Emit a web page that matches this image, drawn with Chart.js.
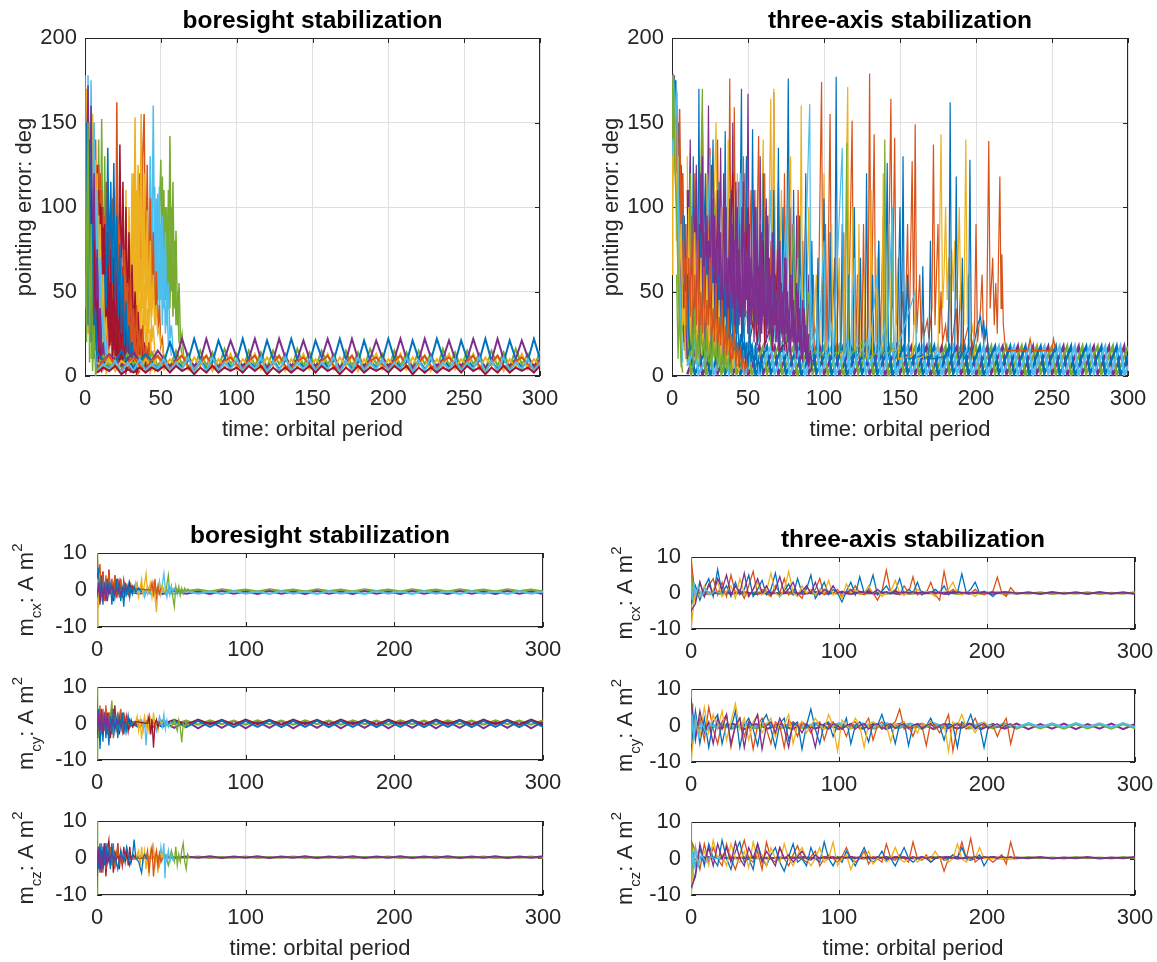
<!DOCTYPE html>
<html lang="en">
<head>
<meta charset="UTF-8">
<title>boresight / three-axis stabilization</title>
<script src="https://cdn.jsdelivr.net/npm/chart.js"></script>
<style>
  html, body { margin: 0; padding: 0; background: #fff; overflow: hidden; }
  #fig { position: relative; width: 1157px; height: 962px; overflow: hidden; background: #fff; }
  #fig canvas { position: absolute; }
</style>
</head>
<body>
<div id="fig"></div>
<script>
// ---------- colours (MATLAB line order) ----------
const C = { blue: '#0072BD', orange: '#D95319', yellow: '#EDB120', purple: '#7E2F8E',
            green: '#77AC30', cyan: '#4DBEEE', red: '#A2142F' };

// ---------- axis ticks ----------
const errTicksX = [0, 50, 100, 150, 200, 250, 300];
const errTicksY = [0, 50, 100, 150, 200];
const momTicksX = [0, 100, 200, 300];
const momTicksY = [-10, 0, 10];

// one-orbit sample times for the early transients
const tH = [0,1,2,3,4,5,6,7,8,9,10,11,12,13,14,15,16,17,18,19,20,21,22,23,24,25,26,27,28,29,
  30,31,32,33,34,35,36,37,38,39,40,41,42,43,44,45,46,47,48,49,50,51,52,53,54,55,56,57,58,59,
  60,61,62,63,64,65,66,67,68,69,70,71,72,73,74,75,76,77,78,79,80,81,82,83,84,85,86,87,88,89,
  90,91,92,93,94,95,96,97,98,99,100];

// ================= top left: boresight pointing error =================
// steady band, sampled every 4 orbits
const tS = [8,12,16,20,24,28,32,36,40,44,48,52,56,60,64,68,72,76,80,84,88,92,96,100,104,108,112,116,120,124,
  128,132,136,140,144,148,152,156,160,164,168,172,176,180,184,188,192,196,200,204,208,212,216,220,224,228,232,236,240,244,
  248,252,256,260,264,268,272,276,280,284,288,292,296,300];
const bsBlueS = [14,9,4,8, 15,8,5,9, 13,9,4,8, 20,10,5,9,
  22,10,4,8, 21,11,5,9, 22,9,5,8, 21,10,4,9,
  22,10,5,8, 21,11,5,9, 22,10,4,8, 21,9,5,9,
  22,10,5,8, 21,10,4,9, 22,11,5,8, 21,10,5,9,
  22,9,4,8, 21,10,5,9, 22,10];
const bsPurpleS = [5,9,13,10, 6,10,14,9, 5,9,15,10, 6,10,22,11,
  6,9,22,10, 5,10,21,11, 6,10,22,10, 5,9,22,11,
  6,10,21,10, 6,10,22,11, 5,9,22,10, 6,10,21,11,
  6,10,22,10, 5,9,22,11, 6,10,21,10, 6,10,22,11,
  5,9,22,10, 6,10,21,11, 6,10];
const bsGreenS = [4,12,6,11, 5,13,7,12, 4,14,6,12, 5,15,7,13,
  4,15,6,14, 5,16,7,13, 4,15,6,14, 5,15,7,13,
  4,16,6,14, 5,15,7,13, 4,15,6,14, 5,16,7,13,
  4,15,6,14, 5,15,7,13, 4,16,6,14, 5,15,7,13,
  4,15,6,14, 5,16,7,13, 4,15];
const bsRedS = [2,5,3,6, 1,4,2,5, 2,5,3,6, 2,6,3,5,
  1,5,2,6, 2,5,3,5, 2,6,3,6, 1,5,2,5,
  2,5,3,6, 2,6,3,5, 1,5,2,6, 2,5,3,5,
  2,6,3,6, 1,5,2,5, 2,5,3,6, 2,6,3,5,
  1,5,2,6, 2,5,3,5, 2,6];
const bsYellowS = [8,5,10,3, 9,6,11,4, 10,5,12,4, 10,6,13,4,
  11,6,12,3, 10,5,13,4, 10,6,13,4, 11,6,12,3,
  10,5,13,4, 10,6,13,4, 11,6,12,3, 10,5,13,4,
  10,6,13,4, 11,6,12,3, 10,5,13,4, 10,6,13,4,
  11,6,12,3, 10,5,13,4, 10,6];
const bsCyanS = [3,7,4,9, 2,8,3,10, 3,7,4,10, 3,8,4,11,
  2,9,3,11, 3,8,4,10, 3,8,4,11, 2,9,3,11,
  3,8,4,10, 3,8,4,11, 2,9,3,11, 3,8,4,10,
  3,8,4,11, 2,9,3,11, 3,8,4,10, 3,8,4,11,
  2,9,3,11, 3,8,4,10, 3,8];
const bsOrangeS = [4,9,12,6, 3,8,11,6, 4,9,12,7, 4,9,12,6,
  3,8,12,6, 4,9,11,7, 4,9,12,6, 3,8,12,6,
  4,9,11,7, 4,9,12,6, 3,8,12,6, 4,9,11,7,
  4,9,12,6, 3,8,12,6, 4,9,11,7, 4,9,12,6,
  3,8,12,6, 4,9,11,7, 4,9];
// transient runs: start time on tH, then one value per orbit
const bsRun1 = [0, 178,100,172,80,160,55,120,30,70,12,30,5,8];
const bsRun2 = [0, 160,60,178,70,175,55,150,40,110,30,70,20,40,12,18,6,8];
const bsRun3 = [0, 40,170,25,150,20,155,15,128,10,95,5,60,3,30,1,10,3];
const bsRun4 = [0, 178,20,150,8,90,3,30,0,5];
const bsRun5 = [4, 10,45,20,110,40,140,50,152,45,130,35,75,25,40,15,20,10];
const bsRun6 = [2, 100,150,45,110,40,95,30,70,25,50,35,60,40,135,65,115,55,126,45,95,35,78,25,60,18,44,12,30,8,20,5,12,4,5];
const bsRun7 = [3, 90,140,50,138,45,125,45,102,40,88,35,72,28,55,20,45,15,35,10,25,7,18,4,12,2,6];
const bsRun8 = [4, 60,130,55,140,50,125,45,110,40,95,35,88,30,75,28,68,25,162,22,56,16,46,12,38,9,30,6,24,4,18,3,12,2];
const bsRun9 = [8, 90,40,120,45,100,40,115,40,95,35,105,35,85,30,90,28,70,25,75,22,55,18,58,15,40,12,42,10,28,8,30,6,18,5,20,4,10];
const bsRun10 = [10, 60,95,35,80,40,100,35,90,30,75,28,80,25,60,22,65,18,45,15,50,12,32,10,35,8,20,6,22,4,12,3];
const bsRun11 = [18, 60,110,50,118,45,137,50,115,40,100,35,85,30,66,25,50,20,38,15,28,12,20,8,14,6];
const bsRun12 = [28, 40,95,45,120,50,153,55,125,50,155,50,120,45,98,40,80,35,60,30,42,25,28,18,18,10];
const bsRun13 = [30, 60,30,120,40,110,35,100,120,40,95,30,75,25,55,20,30,15,12];
const bsRun14 = [33, 50,110,45,120,50,130,155,50,125,45,105,40,85,30,62,25,42,18,22,10];
const bsRun15 = [42, 60,130,60,160,55,105,50,112,45,95,40,85,30,55,22,30,15,10];
const bsRun16 = [43, 50,105,45,112,40,108,35,90,30,75,25,45,18,20,12];
const bsRun17 = [46, 40,100,45,95,128,50,110,45,100,40,142,50,115,40,86,30,55,20,25,12,10];
const bsRun18 = [50, 60,118,40,100,45,110,40,100,35,80,30,50,20,18,12];
const bsRun19 = [0, 60,150,30,140,20,90,10,40,5,8];
const bsRun20 = [1, 100,160,50,130,40,90,30,75,20,40,10,20,8,5];
const bsRun21 = [0, 120,30,150,25,130,20,100,15,60,8,25,3];
const bsRun22 = [0, 150,60,140,50,110,35,80,20,45,10,15,2];
const bsRun23 = [1, 90,170,70,150,50,100,30,60,15,25,5];
const bsRun24 = [2, 140,60,120,40,100,30,70,20,40,10,15,5];
const bsRun25 = [5, 90,150,60,120,50,90,35,60,20,35,10,15,5];
const bsRun26 = [6, 20,120,15,110,10,100,12,90,8,85,10,75,6,70,8,60,5,50,6,45,4,35,3,28,2,20,2,12,1,6];
const bsRun27 = [12, 100,20,95,15,90,18,80,12,72,10,65,8,55,6,48,5,40,4,32,3,25,2,18,1,10];
const bsRun28 = [26, 30,110,20,100,15,95,12,120,10,85,8,70,6,55,5,40,4,28,3,15,2];

// ================= top right: three-axis pointing error =================
const tT = [10,12.5,15,17.5,20,22.5,25,27.5,30,32.5,35,37.5,40,42.5,45,47.5,50,52.5,55,57.5,
  60,62.5,65,67.5,70,72.5,75,77.5,80,82.5,85,87.5,90,92.5,95,97.5,100,102.5,105,107.5,
  110,112.5,115,117.5,120,122.5,125,127.5,130,132.5,135,137.5,140,142.5,145,147.5,150,152.5,155,157.5,
  160,162.5,165,167.5,170,172.5,175,177.5,180,182.5,185,187.5,190,192.5,195,197.5,200,202.5,205,207.5,
  210,212.5,215,217.5,220,222.5,225,227.5,230,232.5,235,237.5,240,242.5,245,247.5,250,252.5,255,257.5,
  260,262.5,265,267.5,270,272.5,275,277.5,280,282.5,285,287.5,290,292.5,295,297.5,300];
const taPurpleS = [1,7,14,22, 0.5,6,13,21, 1.5,7,14,22,
  1,6,12,19, 0.5,5.5,11.5,18, 1.5,6.5,12.5,17.5,
  1,6,12,17.5, 0.5,5.5,11.5,17.5, 1.5,6.5,12.5,17.5,
  1,6,12,17.5, 0.5,5.5,11.5,17.5, 1.5,6.5,12.5,17.5,
  1,6,12,17.5, 0.5,5.5,11.5,17.5, 1.5,6.5,12.5,17.5,
  1,6,12,17.5, 0.5,5.5,11.5,17.5, 1.5,6.5,12.5,17.5,
  1,6,12,17.5, 0.5,5.5,11.5,17.5, 1.5,6.5,12.5,17.5,
  1,6,12,17.5, 0.5,5.5,11.5,17.5, 1.5,6.5,12.5,17.5,
  1,6,12,17.5, 0.5,5.5,11.5,17.5, 1.5,6.5,12.5,17.5,
  1,6,12,17.5, 0.5,5.5,11.5,17.5, 1];
const taGreenS = [24,1,8,16, 23,0.5,7,15, 25,1.5,8,16,
  21,1,7,14, 19,0.5,6,12, 17.5,1.5,6.5,12.5,
  17.5,1,6,12, 17.5,0.5,5.5,11.5, 17.5,1.5,6.5,12.5,
  17.5,1,6,12, 17.5,0.5,5.5,11.5, 17.5,1.5,6.5,12.5,
  17.5,1,6,12, 17.5,0.5,5.5,11.5, 17.5,1.5,6.5,12.5,
  17.5,1,6,12, 17.5,0.5,5.5,11.5, 17.5,1.5,6.5,12.5,
  17.5,1,6,12, 17.5,0.5,5.5,11.5, 17.5,1.5,6.5,12.5,
  17.5,1,6,12, 17.5,0.5,5.5,11.5, 17.5,1.5,6.5,12.5,
  17.5,1,6,12, 17.5,0.5,5.5,11.5, 17.5,1.5,6.5,12.5,
  17.5,1,6,12, 17.5,0.5,5.5,11.5, 17.5];
const taBlueS = [12,18,1,6, 11.5,19,0.5,5.5, 12.5,18,1.5,6.5,
  12,17.5,1,6, 11.5,17.5,0.5,5.5, 12.5,17.5,1.5,6.5,
  12,17.5,1,6, 11.5,17.5,0.5,5.5, 12.5,17.5,1.5,6.5,
  12,17.5,1,6, 11.5,17.5,0.5,5.5, 12.5,17.5,1.5,6.5,
  12,17.5,1,6, 11.5,17.5,0.5,5.5, 12.5,17.5,1.5,6.5,
  12,17.5,1,6, 11.5,17.5,0.5,5.5, 12.5,17.5,1.5,6.5,
  12,17.5,1,6, 11.5,17.5,0.5,5.5, 12.5,17.5,1.5,6.5,
  12,17.5,1,6, 11.5,17.5,0.5,5.5, 12.5,17.5,1.5,6.5,
  12,17.5,1,6, 11.5,17.5,0.5,5.5, 12.5,17.5,1.5,6.5,
  12,17.5,1,6, 11.5,17.5,0.5,5.5, 12];
const taCyanS = [6,12,20,1, 5.5,11.5,19,0.5, 6.5,12.5,20,1.5,
  6,12,18,1, 5.5,11.5,17.5,0.5, 6.5,12.5,17.5,1.5,
  6,12,17.5,1, 5.5,11.5,17.5,0.5, 6.5,12.5,17.5,1.5,
  6,12,17.5,1, 5.5,11.5,17.5,0.5, 6.5,12.5,17.5,1.5,
  6,12,17.5,1, 5.5,11.5,17.5,0.5, 6.5,12.5,17.5,1.5,
  6,12,17.5,1, 5.5,11.5,17.5,0.5, 6.5,12.5,17.5,1.5,
  6,12,17.5,1, 5.5,11.5,17.5,0.5, 6.5,12.5,17.5,1.5,
  6,12,17.5,1, 5.5,11.5,17.5,0.5, 6.5,12.5,17.5,1.5,
  6,12,17.5,1, 5.5,11.5,17.5,0.5, 6.5,12.5,17.5,1.5,
  6,12,17.5,1, 5.5,11.5,17.5,0.5, 6];
// dense early runs: start time on tH, then one value per orbit
const taRibPurple = [8, 30,90,25,110,30,80,20,100,35,70,25,120,30,85,20,95,40,60,25,105,30,75,20,90,35,65,25,110,30,70,
  20,95,40,80,25,100,30,60,20,115,35,70,25,90,30,55,20,100,30,65,20,85,35,50,20,95,25,60,18,75,
  30,45,15,80,25,50,15,70,20,40,12,60,20,35,10,50,15,30,8,40,10,20,5,15,3];
const taRibPurple2 = [15, 40,120,35,90,50,130,30,100,45,80, 35,125,40,95,30,110,50,85,30,120,
  40,70,35,105,45,90,30,115,40,75, 35,100,30,85,45,95,30,70,40,110, 35,80,30,90,25,65,35,100,30,70,
  25,85,30,60,20,75,25,55,20,70, 25,50,15,60,20,45,15,55,20,40, 10,45,15,30,8,25];
const taRibBlue = [5, 60,15,80,20,70,10,90,25,60,15,75,20,55,10,85,25,50,15,70,20,45,10,65,25,40,12,60,20,35,10,
  55,18,30,8,50,15,28,8,45,12,25,6,40,10,20,5,30,8,15,4,20,5,10,3,8,2];
const taRibOrange = [5, 100,30,120,40,90,20,70,35,95,20,60,30,80,15,50,25,65,15,45,30,70,12,40,20,55,10,35,18,45,8,
  30,12,40,6,25,10,30,5,20,8,15,4,12,3,8,2];
const taRibYellow = [3, 140,40,110,30,90,25,70,30,100,20,60,35,85,15,55,25,70,20,45,30,60,12,40,20,55,10,35,15,45,8,
  30,12,35,6,22,10,25,5,15,6,10,3,5];
const taRibGreen = [3, 60,10,50,5,40,15,45,8,35,12,30,5,40,10,25,6,30,12,22,5,28,8,20,4,25,10,18,3,20,6,
  14,2,15,5,10,2,8,1];
// transients [time, deg]
const taStartPurple = [[0,175],[0.5,179],[1,170],[1.5,178],[2,160],[2.5,150],[3,168],[3.5,120],[4,140],[4.5,90],[5,110],[5.5,60],[6,80],[6.5,40],[7,55],[8,20],[9,30],[10,10]];
const taStartBlue = [[0,150],[0.5,177],[1,165],[2,175],[2.5,140],[3,160],[4,120],[4.5,150],[5,100],[6,125],[7,80],[8,95],[9,50],[10,60],[11,25],[12,15]];
const taStartOrange = [[0,90],[1,160],[2,130],[3,155],[4,100],[5,158],[6,90],[7,120],[8,60],[9,70],[10,30]];
const taStartGreen = [[0,178],[0.5,140],[1,170],[2,120],[3,100],[4,60],[5,30],[6,10],[7,2]];
const taStartYellow = [[0,60],[0.5,175],[1,120],[2,150],[3,80],[4,130],[5,60],[6,90],[7,30],[8,40],[9,10]];
const taStartCyan = [[0,130],[1,178],[2,150],[3,170],[4,110],[5,60],[6,30],[7,8]];
const taSpPurple = [[10,30],[12,140],[13,40],[15,60],[16,125],[17,35],[19,50],[20,155],[21,45],[23,70],[24,160],[25,40],[27,55],[28,110],[29,30],[31,60],[32,135],[33,45],[35,40],[36,100],[37,30],[39,55],[40,150],[41,50],[43,40],[44,115],[45,35],[47,60],[48,120],[49,45],[50,167],[51,40],[53,30],[54,95],[55,25],[57,45],[58,130],[59,35],[61,30],[62,105],[63,28],[65,25],[66,90],[67,30],[69,40],[70,115],[71,25],[73,30],[74,85],[75,22],[77,35],[78,100],[79,28],[81,25],[82,95],[83,20],[85,30],[86,80],[87,18],[89,15],[90,60],[91,12],[93,8]];
const taSpBlue = [[10,20],[12,60],[13,25],[14,130],[15,30],[17,45],[17.7,170],[18.5,35],[20,50],[22,120],[23,30],[25,40],[27,140],[28,35],[30,45],[31,115],[32,30],[34,40],[35,145],[36,35],[38,30],[39,110],[40,28],[42,45],[43,80],[44,30],[45.7,170],[46.5,30],[48,40],[49,130],[50,25],[52,35],[53,146],[54,30],[55,25],[56,100],[57,22],[59,30],[60,120],[61,25],[62,20],[63,90],[64,22],[66,28],[67,110],[68,20],[69,25],[70,135],[71,20],[72,25],[73,100],[74,18],[75,25],[76.5,176],[77.5,20],[79,25],[80,110],[81,18],[83,22],[84,95],[85,15],[87,20],[88,120],[89,15],[91,18],[92,80],[93,12],[95,15],[96,70],[97,12],[99,15],[100,105],[101,12],[103,15],[104,85],[105,10],[107,12],[108,177],[109,10],[111,15],[112,90],[113,10],[115,12],[116,60],[117,10],[119,12],[120,100],[121,10],[123,14],[124,70],[125,10],[127,12],[128,120],[129,10],[131,12],[132,60],[133,10],[135,15],[136,80],[137,10],[140,15],[141.6,126],[142.5,12],[144,15],[145,75],[146,10],[148,12],[150,100],[151,15],[152,130],[153,10],[155,60],[156,10],[164,12],[165,65],[166,10],[169,12],[170,80],[171,10],[182,12],[183,162],[184,10],[186,15],[187,118],[188,12],[190,15],[191,70],[192,10],[195,15],[196,128],[197,12],[199,20],[201,30],[203,35],[204,25],[205,33],[206,22],[207,28],[208,15],[209,10]];
const taSpOrange = [[10,30],[12,60],[14,25],[15,120],[16,30],[18,50],[20,150],[21,40],[23,45],[25,135],[26,35],[28,50],[30,140],[31,40],[33,35],[34,100],[35,30],[37,45],[38,176],[39,40],[40,60],[41,159],[42,35],[44,40],[45,90],[46,30],[47,130],[48,35],[50,40],[52,110],[53,30],[55,35],[57,142],[58,30],[60,40],[61,120],[62,28],[64,35],[65,80],[66,25],[67,168],[68,30],[70,100],[71,25],[73,30],[74,120],[75,22],[77,30],[79,90],[80,20],[82,25],[83,110],[84,20],[86,25],[88,95],[89,18],[91,20],[93,60],[94,15],[96,20],[98.4,174],[99.3,20],[100,40],[101,90],[102,15],[104,155],[105,18],[107,70],[108,15],[110,60],[111,12],[113,85],[114,15],[116,20],[118.5,151],[119.5,15],[121,20],[122,60],[123,12],[125,20],[126,90],[127,15],[129,30],[130,179],[131,25],[133,143],[134,20],[136,80],[137,15],[139,95],[140,20],[142,30],[144,164],[145,40],[146.5,141],[147.5,30],[149,70],[150,20],[152,50],[153,15],[155,90],[156,20],[158,127],[159,30],[160,149],[161,25],[163,60],[164,20],[165,30],[166,25],[168,33],[169,22],[171,40],[172,137],[173,30],[175,90],[176,25],[177,50],[178,20],[180,30],[181,20],[183,60],[184,18],[187,40],[188,15],[190,55],[191,15],[195,30],[196,12],[199,25],[200,90],[201,20],[203,40],[204,60],[205,20],[207,30],[208.4,139],[209.3,40],[211,70],[212,30],[213,55],[214,25],[215.7,118],[216.5,40],[217,72],[218,30],[219,20],[220,15],[234,15],[235.6,22],[237,15],[250,15],[251,22],[252.5,15]];
const taSpYellow = [[10,130],[11,30],[13,40],[14,90],[15,30],[17,35],[18,110],[19,30],[21,40],[23,120],[24,35],[26,40],[29,150],[30,35],[32,40],[33,100],[34,30],[36,45],[37,140],[38,35],[40,40],[41,80],[42,30],[43,120],[44,35],[46,40],[49,130],[50,30],[52,35],[55,110],[56,30],[58,40],[60,140],[61,30],[63,35],[65,164],[66,30],[67,170],[68,25],[70,30],[72,110],[73,25],[75,30],[78,130],[79,25],[81,30],[83,70],[84,22],[85,160],[86,20],[88,25],[90,100],[91,20],[93,25],[95,60],[96,15],[98,20],[100,120],[101,15],[103,20],[105,90],[106,15],[108,20],[110,70],[111,12],[113,15],[115.6,171],[116.5,15],[118,20],[119,100],[120,15],[122,15],[123,90],[124,12],[126,15],[127,60],[128,12],[130,15],[131,110],[132,12],[134,15],[135,70],[136,12],[138,15],[139,120],[140,15],[142,20],[143,90],[144,15],[147,15],[148,60],[149,10],[158,12],[160,40],[161,10],[175,15],[177,143],[178,40],[179,60],[180,100],[181,45],[182,70],[183,40],[184,75],[185,50],[186,80],[187,45],[188,60],[189,100],[190,40],[191,55],[192,30],[193.3,140],[194.3,30],[195,60],[196,20],[198,30],[199,12]];
const taSpCyan = [[10,20],[12,50],[13,20],[15,100],[16,25],[19,30],[20,60],[21,20],[25,130],[26,25],[30,40],[31,20],[35,90],[36,20],[40,50],[41,18],[45,120],[46,20],[50,40],[51,15],[55,100],[56,18],[60,45],[61,15],[65,110],[66,15],[70,50],[71,15],[75,95],[76,12],[80,40],[81,12],[85,60],[86,12],[90.6,161],[91.5,12],[95,30],[96,10],[100,80],[101,10],[105,30],[106,10],[112,135],[113,10],[116,20],[117,8],[120,70],[121,10],[128,20],[129,8],[135,60],[136,10],[140,30],[141,8],[145,100],[146,10],[160,50],[161,8]];
const taSpGreen = [[10,40],[12,120],[13,30],[15,50],[17,35],[20,170],[21,30],[23,40],[25,70],[26,25],[28,100],[29,30],[31,45],[33,30],[35,90],[36,25],[38,40],[40,30],[42,110],[43,25],[45,40],[47,30],[50,80],[51,25],[53,35],[55,25],[57,60],[58,20],[60,70],[61,20],[64,30],[65,18],[70,60],[71,18],[75,25],[76,15],[80,90],[81,15],[85,25],[86,12],[90,50],[91,12],[95,15],[100,12],[114,15],[115,138],[116,12],[120,15],[125,20],[126,10],[139,15],[140,140],[141,12],[144,15],[145,90],[146,10]];
const taSpRed = [[10,110],[11,30],[14,50],[15,25],[20,100],[21,30],[25,60],[26,25],[30,90],[31,25],[35,50],[36,20],[40,120],[41,25],[45,60],[46,20],[50,100],[51,20],[55,40],[56,18],[60,80],[61,18],[65,30],[66,15],[70,70],[71,15],[75,20],[76,12]];

// ================= bottom: control dipole m_c (A m^2) =================
// steady ripple, sampled every 8 orbits (both columns)
const tM = [4,12,20,28,36,44,52,60,68,76,84,92,100,108,116,124,132,140,148,156,164,172,180,188,196,204,212,220,228,236,244,252,260,268,276,284,292,300];
const bmxPurpleS = [-0.4,-1.1,-0.3,-1.0, -0.4,-1.1,-0.3,-1.0, -0.4,-1.1,-0.3,-1.0,
  -0.4,-1.1,-0.3,-1.0, -0.4,-1.1,-0.3,-1.0, -0.4,-1.1,-0.3,-1.0,
  -0.4,-1.1,-0.3,-1.0, -0.4,-1.1,-0.3,-1.0, -0.4,-1.1,-0.3,-1.0, -0.4,-1.1];
const bmxCyanS = [-1.0,-0.4,-1.1,-0.3, -1.0,-0.4,-1.1,-0.3, -1.0,-0.4,-1.1,-0.3,
  -1.0,-0.4,-1.1,-0.3, -1.0,-0.4,-1.1,-0.3, -1.0,-0.4,-1.1,-0.3,
  -1.0,-0.4,-1.1,-0.3, -1.0,-0.4,-1.1,-0.3, -1.0,-0.4,-1.1,-0.3, -1.0,-0.4];
const bmxGreenS = [0.1,-0.4,0.2,-0.3, 0.1,-0.4,0.2,-0.3, 0.1,-0.4,0.2,-0.3,
  0.1,-0.4,0.2,-0.3, 0.1,-0.4,0.2,-0.3, 0.1,-0.4,0.2,-0.3,
  0.1,-0.4,0.2,-0.3, 0.1,-0.4,0.2,-0.3, 0.1,-0.4,0.2,-0.3, 0.1,-0.4];
const bmyRedS = [1.1,-0.2,1.0,-0.3, 1.1,-0.2,1.0,-0.3, 1.1,-0.2,1.0,-0.3,
  1.1,-0.2,1.0,-0.3, 1.1,-0.2,1.0,-0.3, 1.1,-0.2,1.0,-0.3,
  1.1,-0.2,1.0,-0.3, 1.1,-0.2,1.0,-0.3, 1.1,-0.2,1.0,-0.3, 1.1,-0.2];
const bmyBlueS = [0.7,-0.9,0.8,-1.0, 0.7,-0.9,0.8,-1.0, 0.7,-0.9,0.8,-1.0,
  0.7,-0.9,0.8,-1.0, 0.7,-0.9,0.8,-1.0, 0.7,-0.9,0.8,-1.0,
  0.7,-0.9,0.8,-1.0, 0.7,-0.9,0.8,-1.0, 0.7,-0.9,0.8,-1.0, 0.7,-0.9];
const bmyPurpleS = [-1.3,0.6,-1.2,0.7, -1.3,0.6,-1.2,0.7, -1.3,0.6,-1.2,0.7,
  -1.3,0.6,-1.2,0.7, -1.3,0.6,-1.2,0.7, -1.3,0.6,-1.2,0.7,
  -1.3,0.6,-1.2,0.7, -1.3,0.6,-1.2,0.7, -1.3,0.6,-1.2,0.7, -1.3,0.6];
const bmyGreenS = [-0.3,0.9,-0.2,0.8, -0.3,0.9,-0.2,0.8, -0.3,0.9,-0.2,0.8,
  -0.3,0.9,-0.2,0.8, -0.3,0.9,-0.2,0.8, -0.3,0.9,-0.2,0.8,
  -0.3,0.9,-0.2,0.8, -0.3,0.9,-0.2,0.8, -0.3,0.9,-0.2,0.8, -0.3,0.9];
const bmzGreenS = [0.4,0.0,0.3,0.1, 0.4,0.0,0.3,0.1, 0.4,0.0,0.3,0.1,
  0.4,0.0,0.3,0.1, 0.4,0.0,0.3,0.1, 0.4,0.0,0.3,0.1,
  0.4,0.0,0.3,0.1, 0.4,0.0,0.3,0.1, 0.4,0.0,0.3,0.1, 0.4,0.0];
const bmzPurpleS = [0.1,0.5,0.0,0.4, 0.1,0.5,0.0,0.4, 0.1,0.5,0.0,0.4,
  0.1,0.5,0.0,0.4, 0.1,0.5,0.0,0.4, 0.1,0.5,0.0,0.4,
  0.1,0.5,0.0,0.4, 0.1,0.5,0.0,0.4, 0.1,0.5,0.0,0.4, 0.1,0.5];
const tmxPurpleS = [0.2,-0.3,0.3,-0.2, 0.2,-0.3,0.3,-0.2, 0.2,-0.3,0.3,-0.2,
  0.2,-0.3,0.3,-0.2, 0.2,-0.3,0.3,-0.2, 0.2,-0.3,0.3,-0.2,
  0.2,-0.3,0.3,-0.2, 0.2,-0.3,0.3,-0.2, 0.2,-0.3,0.3,-0.2, 0.2,-0.3];
const tmxGreenS = [-0.2,0.2,-0.3,0.1, -0.2,0.2,-0.3,0.1, -0.2,0.2,-0.3,0.1,
  -0.2,0.2,-0.3,0.1, -0.2,0.2,-0.3,0.1, -0.2,0.2,-0.3,0.1,
  -0.2,0.2,-0.3,0.1, -0.2,0.2,-0.3,0.1, -0.2,0.2,-0.3,0.1, -0.2,0.2];
const tmyPurpleS = [-1.0,0.4,-0.9,0.5, -1.0,0.4,-0.9,0.5, -1.0,0.4,-0.9,0.5,
  -1.0,0.4,-0.9,0.5, -1.0,0.4,-0.9,0.5, -1.0,0.4,-0.9,0.5,
  -1.0,0.4,-0.9,0.5, -1.0,0.4,-0.9,0.5, -1.0,0.4,-0.9,0.5, -1.0,0.4];
const tmyGreenS = [0.4,-0.8,0.3,-0.9, 0.4,-0.8,0.3,-0.9, 0.4,-0.8,0.3,-0.9,
  0.4,-0.8,0.3,-0.9, 0.4,-0.8,0.3,-0.9, 0.4,-0.8,0.3,-0.9,
  0.4,-0.8,0.3,-0.9, 0.4,-0.8,0.3,-0.9, 0.4,-0.8,0.3,-0.9, 0.4,-0.8];
const tmyCyanS = [0.7,-0.4,0.6,-0.5, 0.7,-0.4,0.6,-0.5, 0.7,-0.4,0.6,-0.5,
  0.7,-0.4,0.6,-0.5, 0.7,-0.4,0.6,-0.5, 0.7,-0.4,0.6,-0.5,
  0.7,-0.4,0.6,-0.5, 0.7,-0.4,0.6,-0.5, 0.7,-0.4,0.6,-0.5, 0.7,-0.4];
const tmzGreenS = [0.4,0.1,0.3,0.0, 0.4,0.1,0.3,0.0, 0.4,0.1,0.3,0.0,
  0.4,0.1,0.3,0.0, 0.4,0.1,0.3,0.0, 0.4,0.1,0.3,0.0,
  0.4,0.1,0.3,0.0, 0.4,0.1,0.3,0.0, 0.4,0.1,0.3,0.0, 0.4,0.1];
const tmzPurpleS = [0.1,0.4,0.0,0.3, 0.1,0.4,0.0,0.3, 0.1,0.4,0.0,0.3,
  0.1,0.4,0.0,0.3, 0.1,0.4,0.0,0.3, 0.1,0.4,0.0,0.3,
  0.1,0.4,0.0,0.3, 0.1,0.4,0.0,0.3, 0.1,0.4,0.0,0.3, 0.1,0.4];

// boresight transients [time, A m^2]
const bmxBlue = [[0,3],[1,6],[2,-3],[3,4],[4,-4],[5,2],[6,-2],[7,3],[8,-1],[9,2],[10,-4],[11,1],[12,-2],[13,3],[14,-1],[15,2],[16,-3],[17,1],[18,-4.5],[19,2],[20,-1],[21,1.5],[22,-2],[23,1],[24,-1],[25,1],[26,-0.5],[28,0.5],[30,-0.5]];
const bmxOrange = [[0,9.5],[1,4],[2,7],[3,-2],[4,5],[5,-3],[6,4],[7,-2],[8,5],[9,-1],[10,3],[11,-2],[12,4],[13,-1],[14,2],[15,-2],[16,3],[17,-1],[18,2],[19,-1],[20,1],[21,-1],[22,0.5],[36,0],[37,2],[38,-1],[39,3],[40,-2],[41,1],[42,-1],[43,0.5]];
const bmxRed = [[3,1],[4,5],[5,-1],[6,3],[7,-3],[8,5.5],[9,0],[10,2],[11,-3],[12,4],[13,-2],[14,3],[15,-1],[16,2],[17,-2],[18,2.5],[19,-1],[20,1],[21,-1],[22,2],[23,-0.5],[24,1],[25,0]];
const bmxYellow = [[0,-10],[0.5,3],[1,-5],[2,2],[3,-3],[4,1],[5,-1],[6,0],[20,0],[22,2],[24,-1],[26,2],[28,-2],[30,3],[31,-1],[33,4.5],[34,-1],[36,2],[37,-2],[38,1],[39,-2],[40,-6],[41,0],[42,2],[43,-1],[44,1],[45,-0.5],[46,0]];
const bmxCyan = [[25,0],[27,2],[28,-1],[30,1.5],[32,-2],[34,1],[36,-1],[38,2],[40,-1],[42,2.5],[43,-1],[45,4.5],[46,0],[47,-2],[48,1],[49,-1],[50,1],[51,-0.5],[52,0.5],[53,-0.3]];
const bmxGreen = [[0,10],[0.3,-10],[0.6,6],[1,-3],[2,2],[3,-1],[4,1],[5,-1],[6,0.5],[8,-0.5],[10,0.5],[15,-0.5],[20,0.5],[25,-0.5],[30,0.5],[35,-0.5],[40,0.5],[44,1],[46,-1],[48,4],[49,-1],[50,1],[51,-2],[52,-4.5],[53,1],[54,-1],[55,1],[56,-1.5],[57,0.5],[58,-1],[59,0.5],[60,-0.3],[61,0.3],[62,0]];
const bmxPurple = [[0,-2],[1,2],[2,-4],[3,1],[4,-2],[5,1],[6,-3],[7,1],[8,-1],[10,1],[12,-1],[14,0.5],[16,-1],[18,0.5],[20,0]];
const bmyBlue = [[0,-3],[1,4],[2,-7],[3,2],[4,-5],[5,3],[6,-4],[7,1],[8,-6],[9,2],[10,-3],[11,4],[12,-2],[13,1],[14,-4],[15,2],[16,-1],[17,3],[18,-3],[19,1],[20,-2],[21,2],[22,-1],[23,1],[24,-0.5]];
const bmyOrange = [[0,7],[1,-2],[2,5],[3,-3],[4,4],[5,-2],[6,5],[7,-3],[8,3],[9,-2],[10,4],[11,-4],[12,2],[13,-1],[14,3],[15,-2],[16,4],[17,-1],[18,2],[19,-2],[20,1],[22,-1],[24,0.5]];
const bmyRed = [[5,0],[6,4],[7,-2],[8,3],[9,-4],[10,2],[11,-2],[12,5],[13,-1],[14,2],[15,-3],[16,1],[17,-2],[18,3],[19,-1],[20,2],[21,-2],[22,1],[24,-1],[26,0.5],[34,0],[35,2],[36,-3],[37,1],[38,-6.6],[39,0],[40,1],[41,-1],[42,0.5]];
const bmyYellow = [[26,0],[27,2],[28,-2],[29,1],[30,-4.3],[31,0],[32,2],[33,-1],[34,1.5],[35,-2],[36,1],[37,-3],[38,3],[39,-1],[40,1],[41,-2],[42,0.5],[44,0]];
const bmyCyan = [[28,0],[30,1],[31,-2],[32,1],[33,-6],[34,0],[35,1],[36,-1],[38,1.5],[40,-2],[42,2],[44,-1],[45,2.5],[46,-1.5],[47,1],[48,-1],[50,0.5]];
const bmyGreen = [[0,10],[0.3,-10],[0.6,5],[1,-4],[2,3],[3,-2],[4,2],[5,-1],[6,1],[8,-1],[9,2],[10,6.3],[11,-1],[12,1],[14,-1],[16,0.5],[20,-0.5],[25,0.5],[30,-0.5],[35,0.5],[40,-0.5],[45,0.5],[50,-1],[52,1],[54,-2],[55,1],[56,-1],[57,-5.2],[58,0],[59,-1],[60,0.5],[61,-0.5],[62,0]];
const bmyPurple = [[0,-4],[1,3],[2,-2],[3,4],[4,-3],[5,2],[6,-1],[7,3],[8,-2],[10,1],[12,-1],[14,1],[16,-0.5],[18,0.5],[20,0]];
const bmzBlue = [[0,2],[1,-3],[2,4],[3,-4],[4,3],[5,-2],[6,4],[7,-1],[8,2],[9,-3],[10,4],[11,-2],[12,1],[14,-3],[16,2],[18,-1],[20,3],[22,-2],[24,1],[25,5],[26,0],[28,-1],[30,-4],[31,0],[32,1],[34,-0.5]];
const bmzOrange = [[0,-8],[1,3],[2,-2],[3,4],[4,-4],[5,3],[6,-3],[7,4],[8,-1],[9,3],[10,-2],[11,4],[12,-3],[13,1],[14,3],[15,-2],[16,2],[17,-1],[18,1],[20,-0.5],[33,0],[34,2],[35,-4],[36,1],[37,3],[38,-5],[39,0],[40,2],[41,-2],[42,1],[43,-1],[44,0]];
const bmzRed = [[4,0],[5,4],[6,-5],[7,2],[8,4.8],[9,-2],[10,3],[11,-4],[12,2],[13,-1],[14,4],[15,-3],[16,1],[17,-2],[18,3],[19,-1],[20,2],[21,-2],[22,3],[23,-1],[24,1],[26,0]];
const bmzYellow = [[26,0],[28,2],[29,-2],[30,3],[31,-1],[32,2],[33,-3],[34,1],[35,-5],[36,2],[37,0],[38,3],[39,-2],[40,1],[41,-4],[42,2],[43,-1],[44,1],[45,0]];
const bmzCyan = [[36,0],[38,2],[39,-1],[40,1],[42,-2],[43,3],[44,0],[45,4],[45.7,-5.5],[46.5,1],[47,-1],[48,2],[49,-1],[50,1],[51,-0.5],[52,0]];
const bmzGreen = [[0,10],[0.3,-10],[0.6,4],[1,-2],[2,2],[3,-1],[4,1],[6,-0.5],[10,0.5],[20,0],[30,0.5],[40,0],[46,1],[48,-2],[50,2],[52,-1],[53,3],[54,-2],[55,1],[56,-1],[57,2],[58,4],[59,-1],[60,-3],[61,1],[62,0]];
const bmzPurple = [[0,-5],[1,3],[2,-4],[3,2],[4,-3],[5,4],[6,-2],[7,1],[8,-1],[10,1],[12,-0.5],[15,0.5],[18,0]];

// three-axis transients, sampled every 3 orbits up to 219
const tR = [0,3,6,9,12,15,18,21,24,27,30,33,36,39,42,45,48,51,54,57,60,63,66,69,72,75,78,81,84,87,
  90,93,96,99,102,105,108,111,114,117,120,123,126,129,132,135,138,141,144,147,150,153,156,159,162,165,168,171,174,177,
  180,183,186,189,192,195,198,201,204,207,210,213,216,219];
const tmxBlue = [-3,2,-2,1.5,4,-1,6.5,0,2,-1, 3,-0.5,1,5,-1,1,3.5,-0.5,1,5.5, -1,0.5,2.5,-0.5,4,0,1,5,-1.5,0.5,
  3,-0.5,1,0,-2.5,0.5,3,-0.5,4.5,0, 1,5,-0.5,0.5,2,0,0.5,4,-0.5,1, 0,3,-0.5,0.5,0,1,0,2,-0.5,0.5,
  0,5.3,0,1,3,0,0.5,0,-1,0.3, 0,0.2,0,0];
const tmxOrange = [10,-2,3,-1,2,4,-0.5,3,-1,5, 0,1,-1.5,2,6,-0.5,1,0,-1,2, 0,4,-0.5,1,0,-1.5,2,0,1,4,
  -0.5,0.5,0,1,-1,0.5,0,2,0,-0.5, 1,0,-2,0.5,6.3,0,1,-0.5,2,0, 4.5,-0.5,0.5,0,3,-0.5,-2,6,0,1,
  0,-0.5,0.5,0,1,0,-0.5,0,0.5,4.4, 0,-1,1.5,0];
const tmxYellow = [-10,1,-1,2,-0.5,1,3,-1,0.5,2, -1.5,4,0,-1,1,3,-0.5,0.5,5.5,0, -1,1,6,0,-1,2,0,1,-0.5,1,
  0,3.5,-0.5,0.5,-1.5,2.5,0,1,-0.5,0, 2,0,1,-1,0,0.5,3.5,0,-0.5,0.5, 0,1,0,0.5,0,-1,0.5,0,1,3,
  0,-0.5,0.5,0,-1,0.3,0,0.3,0,0.5, 0,0,0,0];
const tmxPurple = [-5,-3,3,-1,2.5,-0.5,4,1,5,-0.5, 2,0,5.5,-1,1,4,0,2,-0.5,1, 4.5,0,1,3,-0.5,0.5,2,0,3,-0.5,
  1,0,2,0,0.5,0,1,-0.3,0.5,0, 0.5,0,1,0,0.3,-0.3,0.5,0,0.3,0, 0.3,0,0.2,0,0.3,0,0.2,0,0.2,0,
  0.2,0,0.2,0,0.2,0,0.2,0,0.2,0, 0.2,0,0.2,0];
const tmyBlue = [-7,4,-5,2,-6,1,3,-5,0.5,-1, 4,-6,0,2,-1,-5.5,1,3,-1,-6, 0.5,2,-4,0,1,-6.5,0,4.5,-1,-5,
  0.5,1,-3,0,-1,2,-5,0,1,-1, -4.5,0.5,0,3,-1,0,-5,0.5,1,-5.5, 0,0.5,-1,0,2,-1,0,-4,0.5,0,
  -6,1,0,3,-1,0,-6,0,0.5,-0.5, 0,-0.5,0,-0.5];
const tmyOrange = [6,-3,2,-4,5,-1,-5,1,3,-6, 0,2,-3,1,-6.5,0,2,-1,-5,1, 0,-6,1.5,0,-3,1,0,-2,0.5,1,
  -4,0,1,-1,0,-3,0.5,1,-1,0, 2,-4,0,1,-0.5,0,1,4.5,-1,0, -3,0.5,0,-5.5,1,0,-2,0,3,-7,
  0,0.5,-1,0,2,-1,0,-0.5,0,-3, 0,2,-5,0];
const tmyYellow = [-10,2,-3,5,-2,3,-1,4,-4,1, 6,-1,2,-4,1,3,-2,0,2,-3, 1,0,3,-5,0,1,-2,0,2,0,
  -1,3,0,-7,1.5,0,-1,2,0,-6, 0.5,1,0,-1,0,-4.5,0.5,0,1,-1, 0,-2,0.5,0,1,-1,0,0.5,-7,1,
  0,3,-0.5,0,-2,0,1,0,0,0, -0.5,0,0,0];
const tmyPurple = [7.5,-4,4,-2,1,-5,2,-1,3,-5, 0,2,-6,1,0,3,-6.5,0,1,-2, 2,-1,-6,1,0,-2,0.5,-1,-6,0.5,
  0,-1,0.5,0,-1,0,0.5,-1,0,0.5, -1,0,0.5,-1,0,0.5,-0.8,0,0.5,-0.8, 0,0.5,-0.8,0,0.5,-0.8,0,0.5,-0.8,0,
  0.5,-0.8,0,0.5,-0.8,0,0.5,-0.8,0,0.5, -0.8,0,0.5,-0.8];
const tmzBlue = [-9,-4,3,-2,4,0,-2,5,0,-3, 2,4.5,-1,0,-3,4,0,-2,1,3, -1,-3.5,0.5,4,-1,0,-2,3,0,-1,
  4.5,0,-2,0.5,-1,2,0,-2,0.5,3, 0,-1,0,2,-0.5,0,-2,0.5,3,0, -1,0,0.5,0,-1,0,0.5,-0.5,0,1,
  0,3,0,-0.5,0,1,-2,0,0.5,0, 0,0,0,0];
const tmzOrange = [5,2,-3,4,-1,3,0,-2,4,0, -3,1,5,0,-1,2,-3,4.5,0,-1, 3,0,-2,1,3.5,0,-1,0.5,2,-2,
  0,1,0,-1,0.5,3,0,-1,0,2, -1.5,0.5,0,-1,4,0,-0.5,1,0,-1, 4.5,0,-0.5,1,-1,0,0.5,-3.5,0,1,
  0,4.5,0,5.5,-1,0,0.5,0,-1,0, 1,-1.5,4.5,0];
const tmzYellow = [-10,3,0,2,-2,5,0,1,-2,4, 0,-1,2,-2.5,4.5,0,1,-2,3,0, -1,4,0,-2,1,3,0,-2,0,3,
  -1,0,4.5,-2,0,1,-3,0,0.5,0, 2,-1.5,0,0.5,-1,0,3,0,-1,0, 0.5,-1,0,0.5,0,2,0,0,-1,0,
  4,0,-1,0.5,0,3,0,0,0,0, 0,0,0,0];
const tmzPurple = [-8,-5,4,-1,3,-2,4,0,3,-1, 4.5,0,-2,3,0,4,-1,2,0,-2, 3,0,1,-1,0.5,2,0,-0.5,1,0,
  0.5,0.2,0.5,0,0.5,0.2,0.5,0,0.5,0.2, 0.5,0,0.5,0.2,0.5,0,0.5,0.2,0.5,0, 0.5,0.2,0.5,0,0.5,0.2,0.5,0,0.5,0.2,
  0.5,0,0.5,0.2,0.5,0,0.5,0.2,0.5,0, 0.5,0.2,0.5,0];
const tmxGreenE = [[0,10],[0.3,-10],[0.7,5],[1.2,-3],[2,1],[3,-1],[5,0.5],[8,-0.3],[12,0]];
const tmxCyanE = [[0,4],[1,-2],[2,3],[3,-1],[5,2],[7,-1],[10,1],[13,-0.5],[16,0.5],[20,0]];
const tmyGreenE = [[0,10],[0.3,-10],[0.7,6],[1.2,-5],[2,3],[3,-2],[5,1],[8,-1],[12,0]];
const tmyCyanE = [[0,-5],[1,3],[2,-4],[3,2],[5,-3],[7,1],[10,-2],[13,0.5],[16,-0.5],[20,0]];
const tmzGreenE = [[0,10],[0.3,-10],[0.7,4],[1.2,-6],[2,2],[3,-2],[5,1],[8,-0.5],[12,0]];
const tmzCyanE = [[0,-6],[1,2],[2,-3],[3,3],[5,-2],[7,1],[10,-1],[13,0.5],[16,0],[20,0]];

// ---------- drawing ----------
const FIG = document.getElementById('fig');
const FONT = '"Liberation Sans", Arial, Helvetica, sans-serif';
const AX = '#262626';

function xy(t, y) {
  const n = Math.min(t.length, y.length), out = [];
  for (let i = 0; i < n; i++) out.push({ x: t[i], y: y[i] });
  return out;
}
function pairs(a) { return a.map(p => ({ x: p[0], y: p[1] })); }
// run = [startTime, v0, v1, ...] laid on the tH sample times
function run(r) {
  const i0 = tH.indexOf(r[0]);
  return xy(tH.slice(i0), r.slice(1));
}
function ln(data, color, w) {
  return { data, borderColor: color, borderWidth: w || 1, pointRadius: 0, fill: false, tension: 0 };
}

// MATLAB style box with inward ticks
const boxPlugin = {
  id: 'mbox',
  beforeDatasetsDraw(chart) {
    const { ctx, chartArea: a, scales: { x, y } } = chart;
    ctx.save();
    ctx.strokeStyle = AX;
    ctx.lineWidth = 1;
    ctx.strokeRect(a.left + 0.5, a.top + 0.5, a.right - a.left - 1, a.bottom - a.top - 1);
    const tl = 5;
    ctx.beginPath();
    x.ticks.forEach(t => {
      const px = Math.round(x.getPixelForValue(t.value)) + 0.5;
      ctx.moveTo(px, a.bottom); ctx.lineTo(px, a.bottom - tl);
      ctx.moveTo(px, a.top); ctx.lineTo(px, a.top + tl);
    });
    y.ticks.forEach(t => {
      const py = Math.round(y.getPixelForValue(t.value)) + 0.5;
      ctx.moveTo(a.left, py); ctx.lineTo(a.left + tl, py);
      ctx.moveTo(a.right, py); ctx.lineTo(a.right - tl, py);
    });
    ctx.stroke();
    ctx.restore();
  }
};

// y label "m_cx : A m^2" with sub/superscript
function subLabel(sub, dx) {
  return {
    id: 'subLabel',
    afterDraw(chart) {
      const { ctx, chartArea: a } = chart;
      const parts = [['m', 22, 0], [sub, 15, 8], [': A m', 22, 0], ['2', 15, -11]];
      ctx.save();
      ctx.fillStyle = AX;
      ctx.textBaseline = 'alphabetic';
      ctx.textAlign = 'left';
      let total = 0;
      parts.forEach(p => { ctx.font = p[1] + 'px ' + FONT; total += ctx.measureText(p[0]).width; });
      ctx.translate(a.left - dx, (a.top + a.bottom) / 2);
      ctx.rotate(-Math.PI / 2);
      let x = -total / 2;
      parts.forEach(p => {
        ctx.font = p[1] + 'px ' + FONT;
        ctx.fillText(p[0], x, p[2]);
        x += ctx.measureText(p[0]).width;
      });
      ctx.restore();
    }
  };
}

function panel(o) {
  const cv = document.createElement('canvas');
  const left = o.L - o.padL, top = o.T - o.padT;
  const w = o.R - o.L + o.padL + 30, h = o.B - o.T + o.padT + o.padB;
  cv.width = w; cv.height = h;
  cv.style.left = left + 'px'; cv.style.top = top + 'px';
  cv.style.width = w + 'px'; cv.style.height = h + 'px';
  FIG.appendChild(cv);
  const tickFont = { family: FONT, size: 22 };
  const plugins = [boxPlugin];
  if (o.sub) plugins.push(subLabel(o.sub, o.subDx));
  return new Chart(cv, {
    type: 'line',
    data: { datasets: o.sets },
    options: {
      responsive: false, animation: false, events: [], devicePixelRatio: 1,
      layout: { padding: { left: 0, right: 30, top: o.title ? 0 : o.padT, bottom: 0 } },
      plugins: {
        legend: { display: false },
        tooltip: { enabled: false },
        title: {
          display: !!o.title, text: o.title || '', color: '#000', fullSize: false,
          font: { family: FONT, size: 24.5, weight: 'bold', lineHeight: 1.2 },
          padding: { top: o.padT - 31.7, bottom: 2.3 }
        }
      },
      scales: {
        x: {
          type: 'linear', min: 0, max: 300,
          afterFit: s => { s.height = o.padB; },
          afterBuildTicks: s => { s.ticks = o.xTicks.map(v => ({ value: v })); },
          ticks: { font: tickFont, color: AX, padding: 10, maxRotation: 0, autoSkip: false },
          grid: { color: '#dfdfdf', drawTicks: false },
          border: { display: false },
          title: {
            display: !!o.xTitle, text: o.xTitle || '', color: AX,
            font: { family: FONT, size: 22, lineHeight: 1.2 },
            padding: { top: 0, bottom: o.xTitlePad || 0 }
          }
        },
        y: {
          type: 'linear', min: o.yTicks[0], max: o.yTicks[o.yTicks.length - 1],
          afterFit: s => { s.width = o.padL; },
          afterBuildTicks: s => { s.ticks = o.yTicks.map(v => ({ value: v })); },
          ticks: { font: tickFont, color: AX, padding: o.yTickPad, autoSkip: false },
          grid: { color: '#dfdfdf', drawTicks: false },
          border: { display: false },
          title: {
            display: !!o.yTitle, text: o.yTitle || '', color: AX,
            font: { family: FONT, size: 22, lineHeight: 1.2 },
            padding: { top: 11.8, bottom: 0 }
          }
        }
      }
    },
    plugins
  });
}

const TW = 1.5;   // transient run width
const BW = 1.3;   // bottom transient width

// ----- top left -----
panel({
  L: 85, T: 38, R: 540, B: 376, padL: 85, padT: 38, padB: 74, xTitlePad: 6.8, yTickPad: 8,
  title: 'boresight stabilization', xTitle: 'time: orbital period', yTitle: 'pointing error: deg',
  xTicks: errTicksX, yTicks: errTicksY,
  sets: [
    ln(xy(tS, bsRedS), C.red, 2), ln(xy(tS, bsCyanS), C.cyan, 2), ln(xy(tS, bsOrangeS), C.orange, 2),
    ln(xy(tS, bsYellowS), C.yellow, 2), ln(xy(tS, bsBlueS), C.blue, 2), ln(xy(tS, bsPurpleS), C.purple, 2),
    ln(xy(tS, bsGreenS), C.green, 2),
    ln(run(bsRun4), C.green, TW), ln(run(bsRun19), C.blue, TW), ln(run(bsRun22), C.red, TW), ln(run(bsRun1), C.purple, TW),
    ln(run(bsRun24), C.purple, TW), ln(run(bsRun20), C.purple, TW), ln(run(bsRun21), C.orange, TW),
    ln(run(bsRun2), C.cyan, TW), ln(run(bsRun3), C.yellow, TW), ln(run(bsRun23), C.green, TW), ln(run(bsRun25), C.yellow, TW),
    ln(run(bsRun6), C.blue, TW), ln(run(bsRun26), C.red, TW), ln(run(bsRun7), C.red, TW),
    ln(run(bsRun8), C.orange, TW), ln(run(bsRun27), C.orange, TW), ln(run(bsRun9), C.orange, TW), ln(run(bsRun10), C.red, TW),
    ln(run(bsRun5), C.green, TW), ln(run(bsRun11), C.red, TW), ln(run(bsRun28), C.yellow, TW), ln(run(bsRun12), C.yellow, TW),
    ln(run(bsRun13), C.yellow, TW), ln(run(bsRun14), C.orange, TW),
    ln(run(bsRun15), C.cyan, TW), ln(run(bsRun16), C.cyan, TW), ln(run(bsRun17), C.green, TW), ln(run(bsRun18), C.green, TW)
  ]
});

// ----- top right -----
panel({
  L: 672, T: 38, R: 1128, B: 376, padL: 85, padT: 38, padB: 74, xTitlePad: 6.8, yTickPad: 8,
  title: 'three-axis stabilization', xTitle: 'time: orbital period', yTitle: 'pointing error: deg',
  xTicks: errTicksX, yTicks: errTicksY,
  sets: [
    ln(pairs(taStartGreen), C.green, TW), ln(pairs(taStartCyan), C.cyan, TW), ln(pairs(taStartYellow), C.yellow, TW),
    ln(pairs(taStartOrange), C.orange, TW), ln(pairs(taStartBlue), C.blue, TW), ln(pairs(taStartPurple), C.purple, TW),
    ln(run(taRibGreen), C.green, 1.3), ln(run(taRibOrange), C.orange, 1.3), ln(run(taRibYellow), C.yellow, 1.3),
    ln(run(taRibBlue), C.blue, 1.3), ln(run(taRibPurple2), C.purple, 1.3), ln(run(taRibPurple), C.purple, 1.3),
    ln(pairs(taSpRed), C.red, 1.2), ln(pairs(taSpCyan), C.cyan, 1.2), ln(pairs(taSpGreen), C.green, 1.2),
    ln(pairs(taSpBlue), C.blue, 1.2), ln(pairs(taSpYellow), C.yellow, 1.2), ln(pairs(taSpOrange), C.orange, 1.2),
    ln(pairs(taSpPurple), C.purple, 1.2),
    ln(xy(tT, taCyanS), C.cyan, 2.5), ln(xy(tT, taBlueS), C.blue, 2.5), ln(xy(tT, taGreenS), C.green, 2.5),
    ln(xy(tT, taPurpleS), C.purple, 2.5)
  ]
});

// ----- bottom left (boresight) -----
panel({
  L: 97, T: 553, R: 543, B: 627, padL: 97, padT: 40, padB: 40, yTickPad: 10,
  title: 'boresight stabilization', sub: 'cx', subDx: 64, xTicks: momTicksX, yTicks: momTicksY,
  sets: [
    ln(pairs(bmxPurple), C.purple, BW), ln(pairs(bmxBlue), C.blue, BW), ln(pairs(bmxOrange), C.orange, BW),
    ln(pairs(bmxRed), C.red, BW), ln(pairs(bmxYellow), C.yellow, BW), ln(pairs(bmxCyan), C.cyan, BW),
    ln(pairs(bmxGreen), C.green, BW),
    ln(xy(tM, bmxCyanS), C.cyan, 2), ln(xy(tM, bmxPurpleS), C.purple, 2), ln(xy(tM, bmxGreenS), C.green, 2)
  ]
});
panel({
  L: 97, T: 687, R: 543, B: 760, padL: 97, padT: 26, padB: 40, yTickPad: 10,
  sub: 'cy', subDx: 64, xTicks: momTicksX, yTicks: momTicksY,
  sets: [
    ln(pairs(bmyPurple), C.purple, BW), ln(pairs(bmyBlue), C.blue, BW), ln(pairs(bmyOrange), C.orange, BW),
    ln(pairs(bmyRed), C.red, BW), ln(pairs(bmyYellow), C.yellow, BW), ln(pairs(bmyCyan), C.cyan, BW),
    ln(pairs(bmyGreen), C.green, BW),
    ln(xy(tM, bmyBlueS), C.blue, 2), ln(xy(tM, bmyRedS), C.red, 2), ln(xy(tM, bmyGreenS), C.green, 2),
    ln(xy(tM, bmyPurpleS), C.purple, 2)
  ]
});
panel({
  L: 97, T: 821, R: 543, B: 895, padL: 97, padT: 26, padB: 68, yTickPad: 10,
  sub: 'cz', subDx: 64, xTitle: 'time: orbital period', xTitlePad: 0.8, xTicks: momTicksX, yTicks: momTicksY,
  sets: [
    ln(pairs(bmzPurple), C.purple, BW), ln(pairs(bmzBlue), C.blue, BW), ln(pairs(bmzOrange), C.orange, BW),
    ln(pairs(bmzRed), C.red, BW), ln(pairs(bmzYellow), C.yellow, BW), ln(pairs(bmzCyan), C.cyan, BW),
    ln(pairs(bmzGreen), C.green, BW),
    ln(xy(tM, bmzPurpleS), C.purple, 2), ln(xy(tM, bmzGreenS), C.green, 2)
  ]
});

// ----- bottom right (three-axis) -----
panel({
  L: 691, T: 557, R: 1135, B: 629, padL: 97, padT: 40, padB: 40, yTickPad: 10,
  title: 'three-axis stabilization', sub: 'cx', subDx: 59, xTicks: momTicksX, yTicks: momTicksY,
  sets: [
    ln(pairs(tmxCyanE), C.cyan, BW), ln(xy(tR, tmxPurple), C.purple, BW), ln(xy(tR, tmxYellow), C.yellow, BW),
    ln(xy(tR, tmxBlue), C.blue, BW), ln(xy(tR, tmxOrange), C.orange, BW), ln(pairs(tmxGreenE), C.green, BW),
    ln(xy(tM, tmxPurpleS), C.purple, 2), ln(xy(tM, tmxGreenS), C.green, 2)
  ]
});
panel({
  L: 691, T: 689, R: 1135, B: 762, padL: 97, padT: 26, padB: 40, yTickPad: 10,
  sub: 'cy', subDx: 59, xTicks: momTicksX, yTicks: momTicksY,
  sets: [
    ln(pairs(tmyCyanE), C.cyan, BW), ln(xy(tR, tmyPurple), C.purple, BW), ln(xy(tR, tmyYellow), C.yellow, BW),
    ln(xy(tR, tmyBlue), C.blue, BW), ln(xy(tR, tmyOrange), C.orange, BW), ln(pairs(tmyGreenE), C.green, BW),
    ln(xy(tM, tmyCyanS), C.cyan, 2), ln(xy(tM, tmyGreenS), C.green, 2), ln(xy(tM, tmyPurpleS), C.purple, 2)
  ]
});
panel({
  L: 691, T: 822, R: 1135, B: 895, padL: 97, padT: 26, padB: 68, yTickPad: 10,
  sub: 'cz', subDx: 59, xTitle: 'time: orbital period', xTitlePad: 0.8, xTicks: momTicksX, yTicks: momTicksY,
  sets: [
    ln(pairs(tmzCyanE), C.cyan, BW), ln(xy(tR, tmzPurple), C.purple, BW), ln(xy(tR, tmzYellow), C.yellow, BW),
    ln(xy(tR, tmzBlue), C.blue, BW), ln(xy(tR, tmzOrange), C.orange, BW), ln(pairs(tmzGreenE), C.green, BW),
    ln(xy(tM, tmzPurpleS), C.purple, 2), ln(xy(tM, tmzGreenS), C.green, 2)
  ]
});
</script>
</body>
</html>
